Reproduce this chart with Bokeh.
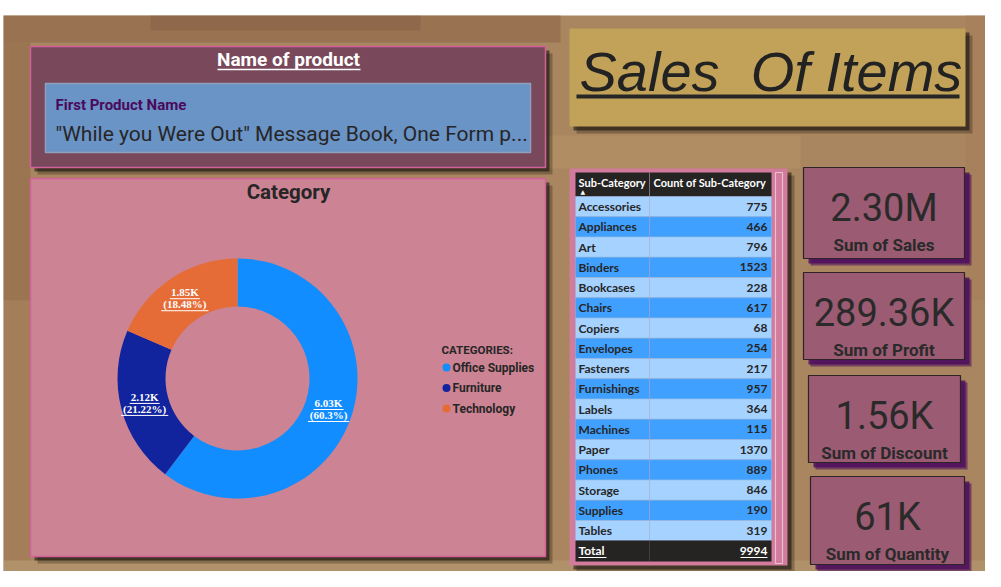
import math
from bokeh.plotting import figure
from bokeh.core.properties import value
from bokeh.embed import file_html
from bokeh.resources import INLINE

# data
categories = ["Office Supplies", "Furniture", "Technology"]
category_counts = [6026, 2121, 1847]
category_colors = ["#118DFF", "#12239E", "#E66C37"]

sub_categories = ["Accessories", "Appliances", "Art", "Binders", "Bookcases", "Chairs", "Copiers",
                  "Envelopes", "Fasteners", "Furnishings", "Labels", "Machines", "Paper", "Phones",
                  "Storage", "Supplies", "Tables"]
sub_counts = [775, 466, 796, 1523, 228, 617, 68, 254, 217, 957, 364, 115, 1370, 889, 846, 190, 319]

kpi_labels = ["Sum of Sales", "Sum of Profit", "Sum of Discount", "Sum of Quantity"]
kpi_values = ["2.30M", "289.36K", "1.56K", "61K"]

first_product = "\"While you Were Out\" Message Book, One Form p..."

DARK = "#262626"
W, H = 985, 571


def Y(sy):
    # y measured from the top of the picture to data y
    return H - sy


p = figure(width=W, height=H, x_range=(0, W), y_range=(0, H),
           output_backend="svg", toolbar_location=None, min_border=0)
p.axis.visible = False
p.grid.visible = False
p.outline_line_color = None
p.background_fill_color = "white"
p.border_fill_color = "white"


def box(x0, y0, x1, y1, fill, line=None, alpha=1.0, lw=1):
    p.quad(left=[x0], right=[x1], top=[Y(y0)], bottom=[Y(y1)], fill_color=fill,
           fill_alpha=alpha, line_color=line, line_width=lw)


def shadow(x0, y0, x1, y1, color="black", off=6):
    box(x0 + off + 1, y0 + off + 1, x1 + off + 1, y1 + off + 1, color, alpha=0.25)
    box(x0 + off - 2, y0 + off - 2, x1 + off - 2, y1 + off - 2, color, alpha=0.5)


def txt(x, y, s, size, color=DARK, bold=False, align="left", font="Roboto", italic=False):
    style = "bold" if bold else "normal"
    if italic:
        style = "italic"
    p.text(x=[x], y=[Y(y)], text=[s], text_font=value(font), text_font_size=f"{size}px",
           text_font_style=style, text_color=color, text_align=align, text_baseline="middle")


def uline(x0, x1, y, color, w=1):
    p.segment(x0=[x0], y0=[Y(y)], x1=[x1], y1=[Y(y)], line_color=color, line_width=w)


# background (wooden texture, roughly)
box(3, 15, 1001, 582, "#a9865f")
box(3, 15, 560, 42, "#8a5e44", alpha=0.5)
box(150, 15, 420, 30, "#7a4e3a", alpha=0.3)
box(3, 42, 30, 300, "#8a5f42", alpha=0.45)
box(3, 300, 30, 560, "#9a7050", alpha=0.35)
box(545, 135, 800, 168, "#b79468", alpha=0.5)
box(965, 15, 1001, 300, "#a57a58", alpha=0.4)
box(3, 560, 1001, 582, "#b89a70", alpha=0.6)

# name of product panel
shadow(30, 46, 545, 167)
box(30, 46, 545, 167, "#79495b", line="#d2609a", lw=1.5)
txt(288, 59, "Name of product", 19, color="white", bold=True, align="center")
uline(217, 360, 69, "white", 1.5)
box(45, 83, 530, 152, "#6a93c6", line="#8fa0bd", lw=1.5)
txt(55, 104, "First Product Name", 15, color="#4a0a5c", bold=True)
txt(55, 133, first_product, 21, color=DARK)

# category panel with donut
shadow(30, 178, 545, 556)
box(30, 178, 545, 556, "#cc8393", line="#d2609a", lw=1.5)
txt(288, 191, "Category", 20.5, color=DARK, bold=True, align="center")

cx, cy, r_in, r_out = 237, 378, 72, 120
total = sum(category_counts)
starts, ends, mids = [], [], []
a = math.pi / 2
for c in category_counts:
    sweep = c / total * 2 * math.pi
    starts.append(a)
    ends.append(a - sweep)
    mids.append(a - sweep / 2)
    a -= sweep
p.annular_wedge(x=cx, y=Y(cy), inner_radius=r_in, outer_radius=r_out, start_angle=starts,
                end_angle=ends, direction="clock", fill_color=category_colors, line_color=None)

r_mid = (r_in + r_out) / 2
for c, m in zip(category_counts, mids):
    lx = cx + r_mid * math.cos(m)
    ly = cy - r_mid * math.sin(m)
    top = f"{c / 1000:.2f}K"
    pct = f"{c / total * 100:.2f}".rstrip("0").rstrip(".")
    bot = f"({pct}%)"
    txt(lx, ly - 6, top, 11, color="white", bold=True, align="center", font="Liberation Serif")
    txt(lx, ly + 6, bot, 11, color="white", bold=True, align="center", font="Liberation Serif")
    w1 = len(top) * 6.0
    w2 = len(bot) * 5.9
    uline(lx - w1 / 2, lx + w1 / 2, ly + 0.5, "white")
    uline(lx - w2 / 2, lx + w2 / 2, ly + 12.5, "white")

txt(441, 349, "CATEGORIES:", 11.5, bold=True)
for i, (name, col) in enumerate(zip(categories, category_colors)):
    ly = 367 + i * 20.5
    p.scatter(x=[446], y=[Y(ly)], size=8, fill_color=col, line_color=None)
    txt(452, ly, name, 12, bold=True)

# title card
shadow(569, 28, 965, 126)
box(569, 28, 965, 126, "#c2a258")
txt(579, 71, "Sales \u00a0Of Items", 56, color="#222222", italic=True, font="Liberation Sans")
p.segment(x0=[576], y0=[Y(96)], x1=[959], y1=[Y(96)], line_color="#262626", line_width=4)

# table
shadow(569, 168, 787, 565)
box(569, 168, 787, 565, "#d27b9c")
box(575, 172, 771, 196, "#252423")
row_h = 20.25
tops = [196 + i * row_h for i in range(len(sub_categories))]
p.quad(left=575, right=771, top=[Y(t) for t in tops], bottom=[Y(t + row_h) for t in tops],
       fill_color=["#a5d2ff" if i % 2 == 0 else "#40a0ff" for i in range(len(sub_categories))],
       line_color="#8fb4dc", line_width=0.5)
p.segment(x0=[649], y0=[Y(172)], x1=[649], y1=[Y(561)], line_color="#b9a4c4", line_width=0.6)
p.text(x=578, y=[Y(t + row_h / 2) for t in tops], text=sub_categories, text_font=value("Lato"),
       text_font_size="12px", text_font_style="bold", text_color=DARK, text_baseline="middle")
p.text(x=767, y=[Y(t + row_h / 2) for t in tops], text=[str(v) for v in sub_counts],
       text_font=value("Lato"), text_font_size="12px", text_font_style="bold", text_color=DARK,
       text_baseline="middle", text_align="right")
txt(578, 182, "Sub-Category", 11, color="white", bold=True, font="Lato")
txt(580, 191, "\u25b2", 6, color="white", font="DejaVu Sans")
txt(653, 182, "Count of Sub-Category", 11, color="white", bold=True, font="Lato")
box(575, 540, 771, 561, "#252423")
p.segment(x0=[649], y0=[Y(540)], x1=[649], y1=[Y(561)], line_color="#5a4a50", line_width=0.6)
txt(578, 550, "Total", 12, color="white", bold=True, font="Lato")
uline(578, 606, 557, "white")
txt(767, 550, str(sum(sub_counts)), 12, color="white", bold=True, align="right", font="Lato")
uline(740, 767, 557, "white")
box(775, 172, 782, 563, None, line="#e8c0d0", lw=1.2)

# kpi cards
cards = [(803, 167, 964, 258), (803, 272, 964, 359), (808, 375, 960, 462), (810, 476, 964, 564)]
for (x0, y0, x1, y1), v, lab in zip(cards, kpi_values, kpi_labels):
    box(x0 + 7, y0 + 7, x1 + 7, y1 + 7, "#4b0a5c", alpha=0.55)
    box(x0 + 5, y0 + 5, x1 + 5, y1 + 5, "#4b0a5c", alpha=0.8)
    box(x0, y0, x1, y1, "#9b5b72", line="#2e2428", lw=1.2)
    mx = (x0 + x1) / 2
    txt(mx, y0 + 40, v, 38, color="#2a2a2a", align="center")
    txt(mx, y0 + 77, lab, 17, color="#2a2a2a", bold=True, align="center")

open("out.html", "w").write(file_html(p, INLINE))
